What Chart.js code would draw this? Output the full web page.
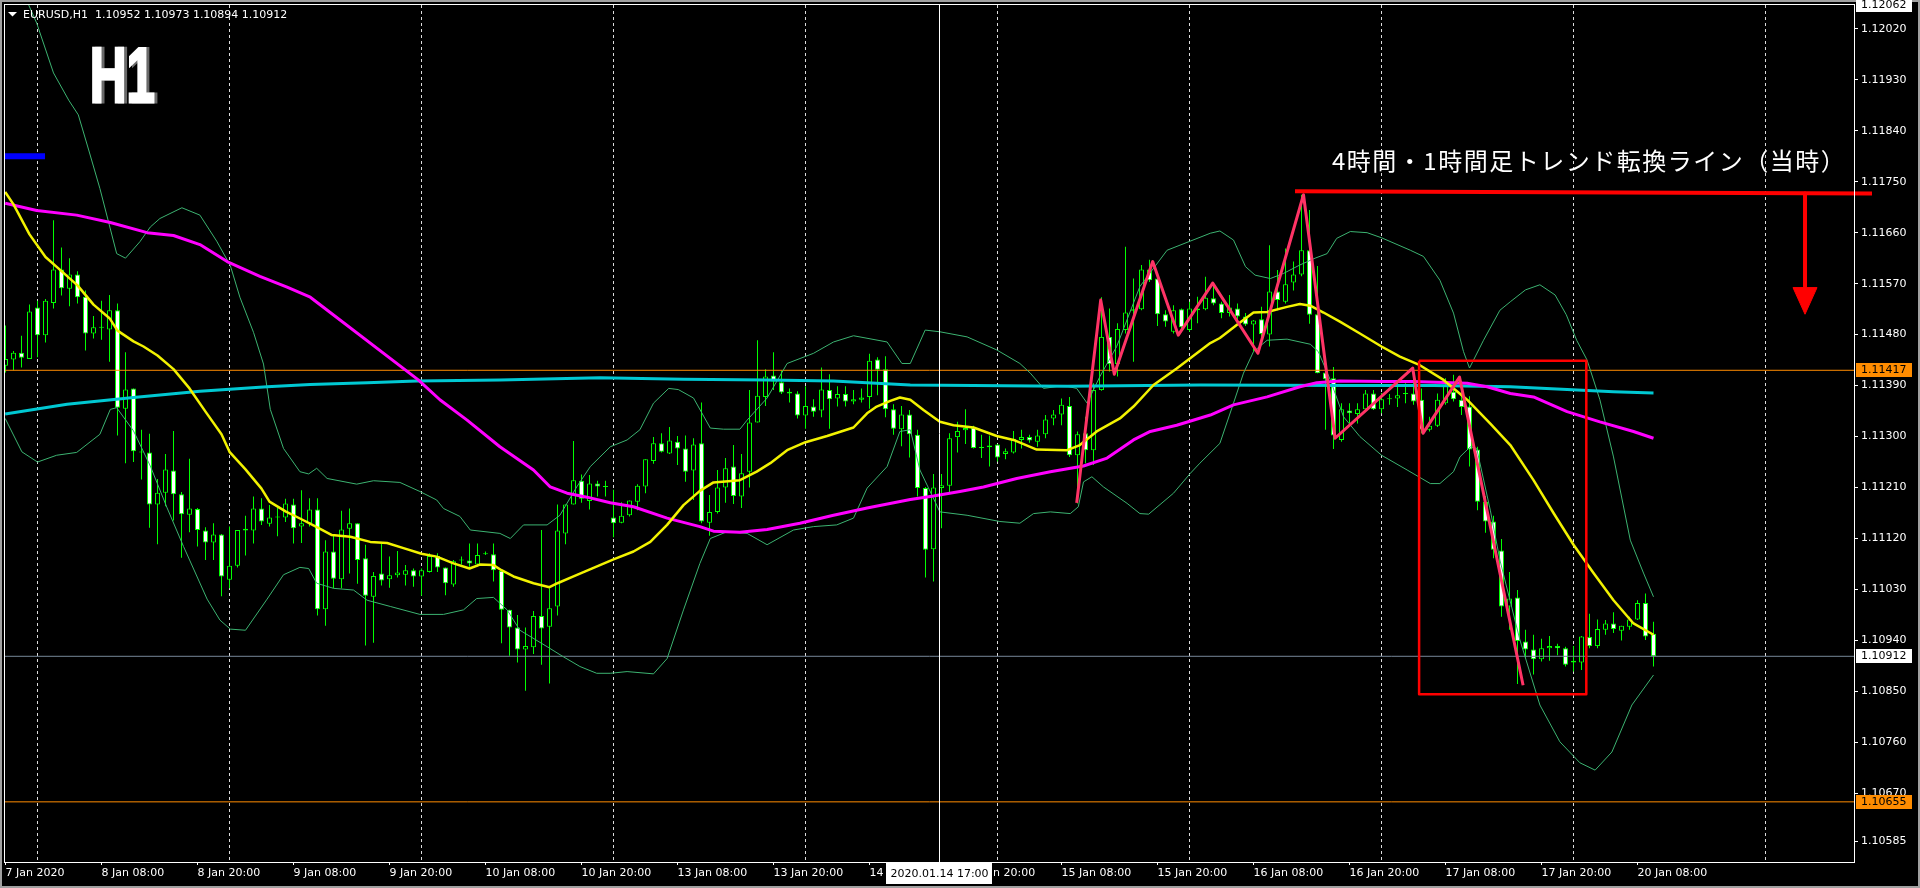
<!DOCTYPE html>
<html><head><meta charset="utf-8">
<script src="https://cdn.jsdelivr.net/npm/chart.js@4.4.1/dist/chart.umd.min.js"></script>
<style>
html,body{margin:0;padding:0;background:#000;overflow:hidden;}
#wrap{position:relative;width:1920px;height:888px;}
canvas{display:block;}
</style></head><body>
<div id="wrap"><canvas id="c" width="1920" height="888"></canvas></div>
<script>
// ---------- axis setup (bar index: 0 = 8 Jan 00:00, 1 bar = 1 hour) ----------
const FIRST_BAR = -4;
const X_MIN = -4.0625, X_MAX = 227.0625;
const Y_MIN = 1.105488, Y_MAX = 1.12062;
const yTickValues = [1.12020,1.11930,1.11840,1.11750,1.11660,1.11570,1.11480,1.11390,1.11300,1.11210,1.11120,1.11030,1.10940,1.10850,1.10760,1.10670,1.10585];
const xLabelIdx = [-4,8,20,32,44,56,68,80,92,104,116,128,140,152,164,176,188,200];
const xLabelText = ['7 Jan 2020','8 Jan 08:00','8 Jan 20:00','9 Jan 08:00','9 Jan 20:00','10 Jan 08:00','10 Jan 20:00','13 Jan 08:00','13 Jan 20:00','14 Jan 08:00','14 Jan 20:00','15 Jan 08:00','15 Jan 20:00','16 Jan 08:00','16 Jan 20:00','17 Jan 08:00','17 Jan 20:00','20 Jan 08:00'];
const dayStarts = [0,24,48,72,96,120,144,168,192,216];

// ---------- EURUSD H1 candles ----------
const opens = [
1.11425,1.11436,1.11448,1.11437,1.11528,1.11479,1.11536,1.11595,1.11561,1.11586,
1.11547,1.11482,1.11493,1.11489,1.11523,1.11349,1.11385,1.11272,1.11272,1.11180,
1.11201,1.11240,1.11198,1.11162,1.11172,1.11134,1.11113,1.11127,1.11047,1.11072,
1.11134,1.11134,1.11173,1.11146,1.11158,1.11157,1.11180,1.11141,1.11147,1.11171,
1.10995,1.11097,1.11048,1.11137,1.11147,1.11085,1.11017,1.11058,1.11048,1.11055,
1.11056,1.11064,1.11053,1.11061,1.11089,1.11069,1.11039,1.11081,1.11081,1.11074,
1.11092,1.11092,1.11063,1.10994,1.10963,1.10924,1.10928,1.10983,1.10964,1.11000,
1.11129,1.11180,1.11222,1.11186,1.11217,1.11212,1.11157,1.11148,1.11161,1.11185,
1.11212,1.11257,1.11288,1.11270,1.11291,1.11279,1.11240,1.11288,1.11148,1.11167,
1.11210,1.11247,1.11194,1.11238,1.11325,1.11370,1.11408,1.11396,1.11376,1.11376,
1.11337,1.11353,1.11346,1.11382,1.11367,1.11375,1.11362,1.11365,1.11370,1.11436,
1.11419,1.11348,1.11313,1.11339,1.11303,1.11209,1.11101,1.11209,1.11213,1.11299,
1.11311,1.11316,1.11280,1.11281,1.11286,1.11269,1.11272,1.11294,1.11299,1.11291,
1.11304,1.11332,1.11339,1.11354,1.11267,1.11306,1.11276,1.11382,1.11476,1.11428,
1.11488,1.11522,1.11525,1.11595,1.11579,1.11516,1.11485,1.11525,1.11488,1.11523,
1.11525,1.11544,1.11535,1.11518,1.11526,1.11512,1.11498,1.11507,1.11480,1.11556,
1.11538,1.11572,1.11586,1.11629,1.11516,1.11413,1.11403,1.11294,1.11346,1.11340,
1.11348,1.11376,1.11348,1.11366,1.11367,1.11375,1.11376,1.11365,1.11312,1.11319,
1.11359,1.11379,1.11365,1.11353,1.11277,1.11185,1.11150,1.11099,1.11000,1.11016,
1.10938,1.10924,1.10907,1.10926,1.10930,1.10926,1.10901,1.10901,1.10946,1.10930,
1.10959,1.10970,1.10957,1.10964,1.10977,1.11006,1.10952];
const highs = [
1.11496,1.11451,1.11478,1.11533,1.11540,1.11543,1.11682,1.11634,1.11615,1.11592,
1.11558,1.11513,1.11540,1.11550,1.11535,1.11449,1.11385,1.11312,1.11305,1.11225,
1.11269,1.11310,1.11202,1.11261,1.11174,1.11140,1.11147,1.11128,1.11141,1.11135,
1.11160,1.11194,1.11191,1.11179,1.11174,1.11190,1.11190,1.11205,1.11191,1.11191,
1.11117,1.11126,1.11169,1.11173,1.11147,1.11109,1.11061,1.11111,1.11088,1.11098,
1.11073,1.11067,1.11067,1.11094,1.11094,1.11069,1.11082,1.11088,1.11111,1.11111,
1.11097,1.11111,1.11064,1.10994,1.10985,1.10963,1.10992,1.11135,1.11032,1.11180,
1.11180,1.11292,1.11233,1.11232,1.11222,1.11222,1.11206,1.11184,1.11187,1.11216,
1.11260,1.11299,1.11306,1.11317,1.11301,1.11302,1.11297,1.11360,1.11197,1.11241,
1.11262,1.11285,1.11269,1.11382,1.11470,1.11419,1.11449,1.11416,1.11385,1.11380,
1.11389,1.11366,1.11422,1.11410,1.11389,1.11389,1.11382,1.11385,1.11446,1.11440,
1.11442,1.11357,1.11354,1.11347,1.11312,1.11211,1.11234,1.11234,1.11306,1.11326,
1.11348,1.11319,1.11303,1.11302,1.11287,1.11279,1.11310,1.11312,1.11303,1.11312,
1.11338,1.11347,1.11367,1.11370,1.11309,1.11335,1.11394,1.11546,1.11526,1.11500,
1.11635,1.11579,1.11603,1.11612,1.11579,1.11523,1.11532,1.11526,1.11538,1.11547,
1.11582,1.11571,1.11538,1.11550,1.11535,1.11518,1.11506,1.11529,1.11638,1.11594,
1.11632,1.11609,1.11727,1.11700,1.11601,1.11420,1.11423,1.11359,1.11359,1.11359,
1.11382,1.11382,1.11377,1.11375,1.11394,1.11394,1.11420,1.11385,1.11335,1.11376,
1.11403,1.11409,1.11385,1.11371,1.11282,1.11195,1.11160,1.11119,1.11061,1.11029,
1.10959,1.10950,1.10943,1.10948,1.10934,1.10929,1.10930,1.10948,1.10987,1.10977,
1.10976,1.10990,1.10966,1.10982,1.11011,1.11023,1.10973];
const lows = [
1.11413,1.11417,1.11422,1.11437,1.11440,1.11466,1.11526,1.11549,1.11530,1.11535,
1.11452,1.11473,1.11471,1.11432,1.11302,1.11253,1.11255,1.11224,1.11139,1.11110,
1.11177,1.11152,1.11086,1.11131,1.11106,1.11082,1.11082,1.11018,1.11032,1.11069,
1.11090,1.11111,1.11144,1.11141,1.11124,1.11149,1.11111,1.11112,1.11141,1.10984,
1.10966,1.11032,1.11032,1.11058,1.11040,1.10931,1.10936,1.11037,1.11033,1.11051,
1.11037,1.11035,1.11019,1.11060,1.11061,1.11020,1.11035,1.11074,1.11070,1.11070,
1.11091,1.11044,1.10935,1.10913,1.10901,1.10851,1.10916,1.10897,1.10864,1.10984,
1.11110,1.11180,1.11183,1.11171,1.11194,1.11194,1.11122,1.11147,1.11159,1.11170,
1.11200,1.11252,1.11272,1.11269,1.11250,1.11220,1.11188,1.11147,1.11125,1.11164,
1.11183,1.11181,1.11174,1.11210,1.11325,1.11354,1.11382,1.11375,1.11360,1.11332,
1.11314,1.11335,1.11334,1.11314,1.11353,1.11353,1.11357,1.11360,1.11349,1.11373,
1.11334,1.11303,1.11283,1.11263,1.11194,1.11051,1.11044,1.11138,1.11200,1.11272,
1.11287,1.11279,1.11262,1.11247,1.11256,1.11260,1.11270,1.11279,1.11289,1.11282,
1.11297,1.11320,1.11320,1.11264,1.11182,1.11253,1.11250,1.11381,1.11415,1.11406,
1.11482,1.11432,1.11523,1.11573,1.11495,1.11494,1.11482,1.11488,1.11485,1.11500,
1.11523,1.11532,1.11509,1.11512,1.11500,1.11495,1.11450,1.11462,1.11459,1.11523,
1.11535,1.11558,1.11583,1.11499,1.11412,1.11312,1.11278,1.11291,1.11323,1.11323,
1.11347,1.11347,1.11341,1.11356,1.11352,1.11359,1.11356,1.11306,1.11309,1.11317,
1.11356,1.11362,1.11338,1.11247,1.11170,1.11130,1.11085,1.10982,1.10959,1.10863,
1.10908,1.10880,1.10903,1.10904,1.10914,1.10894,1.10885,1.10888,1.10926,1.10926,
1.10950,1.10953,1.10940,1.10959,1.10976,1.10941,1.10894];
const closes = [
1.11437,1.11448,1.11439,1.11521,1.11479,1.11540,1.11595,1.11562,1.11586,1.11546,
1.11482,1.11493,1.11492,1.11523,1.11351,1.11383,1.11274,1.11273,1.11180,1.11201,
1.11242,1.11198,1.11163,1.11173,1.11135,1.11113,1.11127,1.11053,1.11072,1.11135,
1.11137,1.11173,1.11150,1.11157,1.11157,1.11182,1.11138,1.11147,1.11171,1.10995,
1.11097,1.11049,1.11136,1.11147,1.11082,1.11019,1.11054,1.11046,1.11055,1.11060,
1.11064,1.11053,1.11064,1.11089,1.11069,1.11041,1.11080,1.11081,1.11076,1.11091,
1.11094,1.11064,1.10994,1.10963,1.10924,1.10930,1.10983,1.10961,1.10997,1.11134,
1.11180,1.11223,1.11190,1.11217,1.11212,1.11211,1.11147,1.11160,1.11187,1.11213,
1.11260,1.11288,1.11273,1.11293,1.11279,1.11238,1.11286,1.11150,1.11167,1.11210,
1.11244,1.11195,1.11235,1.11325,1.11372,1.11406,1.11397,1.11378,1.11379,1.11337,
1.11354,1.11344,1.11383,1.11366,1.11375,1.11362,1.11366,1.11369,1.11434,1.11418,
1.11348,1.11314,1.11339,1.11304,1.11209,1.11100,1.11210,1.11214,1.11297,1.11310,
1.11315,1.11280,1.11281,1.11284,1.11263,1.11274,1.11296,1.11299,1.11293,1.11302,
1.11330,1.11339,1.11356,1.11267,1.11304,1.11276,1.11382,1.11476,1.11428,1.11490,
1.11519,1.11525,1.11595,1.11576,1.11516,1.11503,1.11523,1.11493,1.11526,1.11526,
1.11545,1.11535,1.11518,1.11528,1.11512,1.11498,1.11505,1.11481,1.11556,1.11541,
1.11569,1.11586,1.11629,1.11515,1.11412,1.11401,1.11302,1.11348,1.11341,1.11348,
1.11376,1.11348,1.11366,1.11367,1.11373,1.11375,1.11362,1.11312,1.11319,1.11365,
1.11391,1.11366,1.11352,1.11277,1.11185,1.11150,1.11100,1.11000,1.11014,1.10939,
1.10924,1.10907,1.10926,1.10930,1.10926,1.10897,1.10904,1.10947,1.10930,1.10960,
1.10970,1.10960,1.10966,1.10977,1.11006,1.10947,1.10912];

// ---------- indicator lines: [bar index, price] ----------
const maYellow = [[-4.04,1.11732],[-3,1.11710],[-1,1.11657],[1,1.11617],[3,1.11592],[5,1.11567],[7,1.11533],[9,1.11509],[10,1.11487],[12,1.11468],[13.25,1.11459],[15,1.11443],[17,1.11419],[19,1.11385],[21,1.11344],[23,1.11304],[24,1.11273],[26,1.11242],[28,1.11208],[29,1.11185],[31,1.11168],[33,1.11154],[34.8,1.11141],[36.8,1.11126],[39.1,1.11123],[41.6,1.11114],[43.7,1.11112],[45.75,1.11103],[48,1.11093],[49.9,1.11088],[52,1.11076],[54,1.11067],[55.3,1.11074],[57,1.11073],[58,1.11064],[59.5,1.11053],[62,1.11041],[64,1.11034],[65,1.11041],[67,1.11053],[69.5,1.11068],[72,1.11083],[74.5,1.11097],[76.6,1.11114],[78.7,1.11144],[80.75,1.11179],[82.8,1.11204],[84.5,1.11219],[87.8,1.11223],[89.9,1.11238],[91.6,1.11253],[93.7,1.11276],[96,1.11290],[98.7,1.11301],[102,1.11316],[103.7,1.11341],[104.9,1.11353],[106.6,1.11363],[107.8,1.11369],[109.1,1.11365],[110.75,1.11347],[112.8,1.11326],[114.5,1.11320],[117,1.11316],[119.9,1.11301],[122,1.11294],[124.9,1.11277],[128.7,1.11276],[130.3,1.11285],[132.4,1.11309],[135.3,1.11332],[137,1.11353],[139.5,1.11391],[142.4,1.11420],[146.6,1.11465],[147.8,1.11474],[149.9,1.11497],[152,1.11519],[153.7,1.11520],[156.2,1.11529],[157.8,1.11534],[159.1,1.11531],[160.75,1.11519],[162.8,1.11503],[165.3,1.11482],[168,1.11459],[170.3,1.11441],[172.8,1.11426],[175.75,1.11400],[178.7,1.11365],[181.6,1.11323],[184.1,1.11285],[187,1.11223],[189.5,1.11165],[192,1.11109],[194.5,1.11059],[197,1.11011],[199.5,1.10970],[202,1.10950]];
const maMagenta = [[-4.04,1.11712],[-0.1,1.11699],[4.9,1.11691],[9.1,1.11678],[13.7,1.11660],[17,1.11655],[20.3,1.11639],[23.7,1.11609],[27.8,1.11583],[31.2,1.11564],[34.1,1.11546],[47.6,1.11400],[50.3,1.11365],[53.7,1.11329],[57.8,1.11282],[62,1.11241],[64.1,1.11211],[66.2,1.11200],[68.7,1.11193],[71.6,1.11183],[74.5,1.11176],[78.7,1.11156],[82.8,1.11141],[84.5,1.11133],[87.8,1.11131],[91.2,1.11136],[95.3,1.11147],[99.5,1.11161],[103.7,1.11174],[109.1,1.11189],[112,1.11195],[115.3,1.11203],[118.25,1.11211],[122.4,1.11226],[126.6,1.11238],[130.75,1.11248],[133.7,1.11262],[137,1.11294],[139.1,1.11309],[142.4,1.11320],[146.6,1.11338],[149.5,1.11356],[153.7,1.11370],[157.8,1.11388],[159.9,1.11395],[162.8,1.11398],[168.25,1.11397],[172,1.11397],[178.7,1.11394],[181.2,1.11388],[184.1,1.11376],[187,1.11370],[191.2,1.11344],[195.3,1.11326],[199.5,1.11309],[202,1.11297]];
const maCyan = [[-4.04,1.11340],[3.7,1.11357],[12,1.11369],[20.3,1.11380],[28.7,1.11388],[34.1,1.11392],[41.2,1.11395],[47.4,1.11398],[57.8,1.11400],[70.3,1.11404],[80.75,1.11401],[91.2,1.11400],[99.5,1.11398],[103.7,1.11395],[109.1,1.11391],[128.7,1.11389],[145.3,1.11391],[164.1,1.11390],[174.5,1.11390],[184.1,1.11388],[191.2,1.11383],[197,1.11379],[202,1.11377]];
const bbUpper = [[-2.2,1.12106],[-1.1,1.12062],[-0.1,1.12030],[2,1.11942],[3.9,1.11894],[5.1,1.11868],[6.4,1.11806],[7.8,1.11738],[9.9,1.11623],[11,1.11615],[12.8,1.11644],[14.1,1.11670],[15.3,1.11685],[18.05,1.11704],[20.3,1.11691],[22.4,1.11645],[24.1,1.11602],[25.3,1.11546],[27,1.11484],[28.25,1.11428],[29.1,1.11348],[30.75,1.11279],[32.8,1.11238],[33.9,1.11234],[34.9,1.11244],[36.2,1.11226],[39.9,1.11216],[42,1.11222],[45.3,1.11219],[47.8,1.11203],[49.9,1.11188],[50.75,1.11173],[52.8,1.11159],[54.1,1.11135],[57.8,1.11129],[59.1,1.11120],[60.75,1.11144],[63.7,1.11144],[65.3,1.11161],[67.4,1.11211],[69.1,1.11247],[71.6,1.11282],[73.7,1.11294],[75.3,1.11312],[77,1.11359],[78.9,1.11385],[80.1,1.11383],[82,1.11368],[84.1,1.11315],[85.75,1.11313],[87.8,1.11313],[88.7,1.11329],[91.2,1.11368],[93.7,1.11429],[97,1.11447],[99.5,1.11467],[102,1.11478],[106.2,1.11467],[108.05,1.11429],[109.1,1.11429],[110.96,1.11488],[112.8,1.11485],[116.2,1.11476],[119.9,1.11453],[122.8,1.11429],[124.1,1.11412],[125.75,1.11385],[128.25,1.11390],[129.9,1.11385],[131.2,1.11359],[132.8,1.11406],[134.9,1.11459],[137.8,1.11565],[141.2,1.11629],[146.6,1.11659],[147.8,1.11663],[149.5,1.11647],[151,1.11600],[152.2,1.11585],[154.1,1.11579],[155.75,1.11588],[157.8,1.11603],[159.7,1.11615],[161.2,1.11623],[162.4,1.11650],[164.1,1.11662],[166.2,1.11660],[168,1.11651],[171.6,1.11629],[173.25,1.11618],[175.3,1.11576],[177,1.11518],[178.25,1.11450],[179,1.11421],[180.75,1.11470],[182.8,1.11523],[184.1,1.11538],[186,1.11559],[187.8,1.11568],[189.7,1.11550],[191.1,1.11515],[192.4,1.11470],[193.7,1.11435],[195.3,1.11365],[197,1.11264],[199.1,1.11117],[200.75,1.11059],[202,1.11017]];
const bbLower = [[-4.04,1.11332],[-1.95,1.11273],[0,1.11255],[2.4,1.11267],[4.9,1.11272],[7.8,1.11304],[9.1,1.11348],[9.9,1.11351],[12,1.11310],[14.1,1.11248],[16.2,1.11174],[18.25,1.11106],[21.2,1.11013],[22.8,1.10976],[24.1,1.10960],[26,1.10958],[28.7,1.11013],[30.75,1.11056],[32.8,1.11069],[33.9,1.11067],[34.9,1.11041],[37,1.11032],[39.5,1.11029],[41.2,1.11011],[44.1,1.11000],[47.8,1.10986],[50.75,1.10986],[53.25,1.10994],[54.9,1.11014],[57,1.11016],[58.7,1.10994],[60.3,1.10958],[63.7,1.10929],[65.75,1.10911],[67.8,1.10894],[69.9,1.10882],[71.6,1.10882],[73.7,1.10885],[77,1.10881],[78.7,1.10908],[80.75,1.10994],[82.8,1.11076],[84.1,1.11120],[86.2,1.11132],[88.7,1.11129],[91.2,1.11109],[94.5,1.11135],[97,1.11141],[99.9,1.11144],[102,1.11156],[103.7,1.11209],[106.2,1.11247],[107.8,1.11309],[109.1,1.11312],[110.3,1.11241],[112.8,1.11167],[116.2,1.11161],[120.3,1.11150],[122.8,1.11147],[124.5,1.11164],[126.6,1.11167],[129.1,1.11164],[130.1,1.11176],[130.75,1.11220],[131.8,1.11229],[133.25,1.11211],[136.2,1.11182],[137.8,1.11164],[138.9,1.11163],[142,1.11200],[144.1,1.11235],[145.3,1.11253],[147.8,1.11288],[149.5,1.11359],[150.75,1.11412],[152,1.11450],[153.7,1.11470],[156.2,1.11472],[159.1,1.11463],[160.1,1.11450],[161.6,1.11400],[163.25,1.11335],[165.3,1.11300],[168,1.11267],[171.2,1.11241],[174.1,1.11217],[175.3,1.11217],[177,1.11238],[177.8,1.11264],[179.1,1.11282],[179.9,1.11279],[181.6,1.11170],[182.8,1.11082],[185.3,1.10941],[187.8,1.10826],[190.3,1.10761],[192.8,1.10724],[194.7,1.10711],[196.8,1.10743],[199.3,1.10826],[202,1.10879]];
const zigzag = [[129.9,1.11183],[132.9,1.11541],[134.6,1.11410],[139.4,1.11609],[142.6,1.11479],[146.9,1.11571],[152.55,1.11447],[158.25,1.11727],[162.2,1.11297],[171.9,1.11421],[173.2,1.11306],[177.75,1.11405],[185.7,1.10861]];

// ---------- drawn objects ----------
const orangeLevels = [1.11417, 1.10655];
const bidPrice = 1.10912;
const chartTopPrice = 1.12062;
const trendLine = [[157.19,1.11733],[229.31,1.11729]];
const arrowShaft = [[220.94,1.11729],[220.94,1.11565]];
const arrowHead = [[219.44,1.11563],[220.94,1.11516],[222.44,1.11563],[219.44,1.11563]];
const boxRect = [[172.7,1.11434],[193.6,1.11434],[193.6,1.10845],[172.7,1.10845],[172.7,1.11434]];
const blueMark = [[-4.06,1.11795],[0.94,1.11795]];
const crosshairIndex = 112.75;
const crosshairLabel = '2020.01.14 17:00';
const titleText = 'EURUSD,H1  1.10952 1.10973 1.10894 1.10912';
const annotText = '4時間・1時間足トレンド転換ライン（当時）';
const annotAt = [161.81, 1.11786];

const FONT = "'DejaVu Sans', 'Liberation Sans', Arial, sans-serif";
const pts = arr => arr.map(([x, y]) => ({x, y}));
const barX = opens.map((_, k) => FIRST_BAR + k);
const wickData = barX.map((x, k) => ({x, y: [lows[k], highs[k]]}));
const bodyData = barX.map((x, k) => ({x, y: [opens[k], closes[k]]}));

const lineDs = (data, color, width, order, extra) => Object.assign({
  type: 'line', data: pts(data), borderColor: color, borderWidth: width, pointRadius: 0,
  tension: 0, fill: false, order, borderJoinStyle: 'round', clip: 0
}, extra || {});

const datasets = [
  lineDs([[X_MIN, orangeLevels[0]], [X_MAX, orangeLevels[0]]], '#ff8c00', 1, 85),
  lineDs([[X_MIN, orangeLevels[1]], [X_MAX, orangeLevels[1]]], '#ff8c00', 1, 85),
  lineDs([[X_MIN, bidPrice], [X_MAX, bidPrice]], '#778899', 1, 86),
  { type: 'bar', data: wickData, backgroundColor: '#00ff00', borderWidth: 0, barThickness: 1,
    grouped: false, inflateAmount: 0, clip: 0, order: 90 },
  { type: 'bar', data: bodyData,
    backgroundColor: c => (closes[c.dataIndex] < opens[c.dataIndex] ? '#ffffff' : '#000000'),
    borderColor: '#00ff00', borderWidth: 1, borderSkipped: false, barThickness: 5,
    grouped: false, inflateAmount: 0, minBarLength: 1, clip: 0, order: 89 },
  lineDs(bbUpper, '#3cb371', 1, 80),
  lineDs(bbLower, '#3cb371', 1, 80),
  lineDs(maCyan, '#00c8d2', 3, 79),
  lineDs(maMagenta, '#ff00ff', 3, 78),
  lineDs(maYellow, '#f2f200', 2.5, 77),
  lineDs(zigzag, '#ff3366', 3, 60),
  lineDs(blueMark, '#0000ff', 6, 55, {borderCapStyle: 'butt'}),
  lineDs(boxRect, '#ff0000', 2.5, 50),
  lineDs(trendLine, '#ff0000', 4, 45, {clip: false, borderCapStyle: 'butt'}),
  lineDs(arrowShaft, '#ff0000', 4, 40, {borderCapStyle: 'butt'}),
  lineDs(arrowHead, '#ff0000', 1, 39, {fill: 'shape', backgroundColor: '#ff0000'}),
  lineDs([[crosshairIndex, Y_MIN], [crosshairIndex, Y_MAX]], '#ffffff', 1, 30)
];

const overlay = {
  id: 'mt4overlay',
  beforeDraw(chart) {
    const c = chart.ctx;
    c.save();
    c.fillStyle = '#000'; c.fillRect(0, 0, chart.width, chart.height);
    c.strokeStyle = '#a0a0a0'; c.lineWidth = 2;
    c.strokeRect(1, 1, chart.width - 2, chart.height - 2);
    c.restore();
  },
  beforeDatasetsDraw(chart) {
    const {ctx: c, chartArea: a} = chart; const xs = chart.scales.x;
    c.save();
    c.strokeStyle = '#dcdcdc'; c.lineWidth = 1; c.setLineDash([3, 3]);
    for (const d of dayStarts) {
      const px = Math.floor(xs.getPixelForValue(d)) + 0.5;
      if (px < a.left || px > a.right) continue;
      c.beginPath(); c.moveTo(px, a.top); c.lineTo(px, a.bottom); c.stroke();
    }
    c.restore();
  },
  afterDraw(chart) {
    const {ctx: c, chartArea: a} = chart; const xs = chart.scales.x, ys = chart.scales.y;
    c.save();
    // plot frame
    c.strokeStyle = '#ffffff'; c.lineWidth = 1;
    c.strokeRect(a.left - 0.5, a.top - 0.5, a.right - a.left + 1, a.bottom - a.top + 1);
    // price boxes on the right axis
    c.font = `11px ${FONT}`; c.textBaseline = 'middle'; c.textAlign = 'left';
    const boxes = [[chartTopPrice, '#ffffff'], [orangeLevels[0], '#ff8c00'], [bidPrice, '#ffffff'], [orangeLevels[1], '#ff8c00']];
    boxes.forEach(([v, bg]) => {
      const py = ys.getPixelForValue(v);
      c.fillStyle = bg; c.fillRect(a.right + 2, Math.round(py) - 7, 56, 14);
      c.fillStyle = '#000'; c.fillText(v.toFixed(5), a.right + 7, Math.round(py) + 0.5);
    });
    // crosshair time box
    const cx = xs.getPixelForValue(crosshairIndex);
    c.fillStyle = '#ffffff'; c.fillRect(Math.round(cx) - 54, a.bottom + 1, 106, 21);
    c.fillStyle = '#000'; c.textAlign = 'center'; c.fillText(crosshairLabel, cx, a.bottom + 12);
    // title
    c.fillStyle = '#ffffff';
    c.beginPath(); c.moveTo(8, 12); c.lineTo(17, 12); c.lineTo(12.5, 16.5); c.closePath(); c.fill();
    c.font = `11px ${FONT}`;
    c.textAlign = 'left'; c.fillText(titleText, 23, 15);
    // H1 label
    c.font = "bold 78px 'Liberation Sans', Arial, sans-serif";
    c.textBaseline = 'alphabetic';
    const m = c.measureText('H1');
    const ink = (m.actualBoundingBoxRight + m.actualBoundingBoxLeft) || m.width;
    const sx = 61 / ink;
    c.save(); c.translate(93, 102); c.scale(sx, 1);
    c.lineJoin = 'miter';
    c.fillStyle = '#6a6a6a'; c.strokeStyle = '#6a6a6a'; c.lineWidth = 3;
    c.fillText('H1', m.actualBoundingBoxLeft + 3 / sx, 0); c.strokeText('H1', m.actualBoundingBoxLeft + 3 / sx, 0);
    c.fillStyle = '#ffffff'; c.strokeStyle = '#ffffff';
    c.fillText('H1', m.actualBoundingBoxLeft, 0); c.strokeText('H1', m.actualBoundingBoxLeft, 0);
    c.restore();
    // annotation text
    const fs = 24;
    c.font = `${fs}px 'Noto Sans CJK JP', sans-serif`; c.fillStyle = '#ffffff';
    c.textBaseline = 'middle'; c.textAlign = 'left';
    const chars = Array.from(annotText);
    const ws = chars.map(ch => c.measureText(ch).width);
    const tot = ws.reduce((s, w) => s + w, 0);
    const gap = (496 + 0.7 * fs - tot) / (chars.length - 1);
    let px = xs.getPixelForValue(annotAt[0]); const py = ys.getPixelForValue(annotAt[1]);
    chars.forEach((ch, k) => { c.fillText(ch, px, py); px += ws[k] + gap; });
    c.restore();
  }
};

const zeroPad = s => { s.paddingTop = 0; s.paddingBottom = 0; s.paddingLeft = 0; s.paddingRight = 0; };

new Chart(document.getElementById('c'), {
  type: 'bar',
  data: { datasets },
  options: {
    responsive: false, animation: false, devicePixelRatio: 1, events: [],
    layout: { padding: { left: 5, top: 5, right: 0, bottom: 0 } },
    plugins: { legend: { display: false }, tooltip: { enabled: false } },
    scales: {
      x: {
        type: 'linear', min: X_MIN, max: X_MAX, offset: false, bounds: 'data',
        grid: { display: true, drawOnChartArea: false, drawTicks: true, tickLength: 3, color: '#ffffff', offset: false },
        border: { display: false },
        afterBuildTicks: s => { s.ticks = xLabelIdx.map(v => ({ value: v })); },
        afterFit: s => { s.height = 26; zeroPad(s); },
        ticks: {
          autoSkip: false, maxRotation: 0, minRotation: 0, align: 'start', padding: 2,
          color: '#ffffff', font: { family: FONT, size: 11 },
          callback: v => { const k = xLabelIdx.indexOf(v); return k >= 0 ? xLabelText[k] : ''; }
        }
      },
      y: {
        type: 'linear', position: 'right', min: Y_MIN, max: Y_MAX, beginAtZero: false, bounds: 'data',
        grid: { drawOnChartArea: false, drawTicks: true, tickLength: 4, color: '#ffffff' },
        border: { display: false },
        afterBuildTicks: s => { s.ticks = yTickValues.map(v => ({ value: v })); },
        afterFit: s => { s.width = 66; zeroPad(s); },
        ticks: {
          autoSkip: false, padding: 3, color: '#ffffff', font: { family: FONT, size: 11 },
          callback: v => Number(v).toFixed(5)
        }
      }
    }
  },
  plugins: [overlay]
});
</script>
</body></html>
